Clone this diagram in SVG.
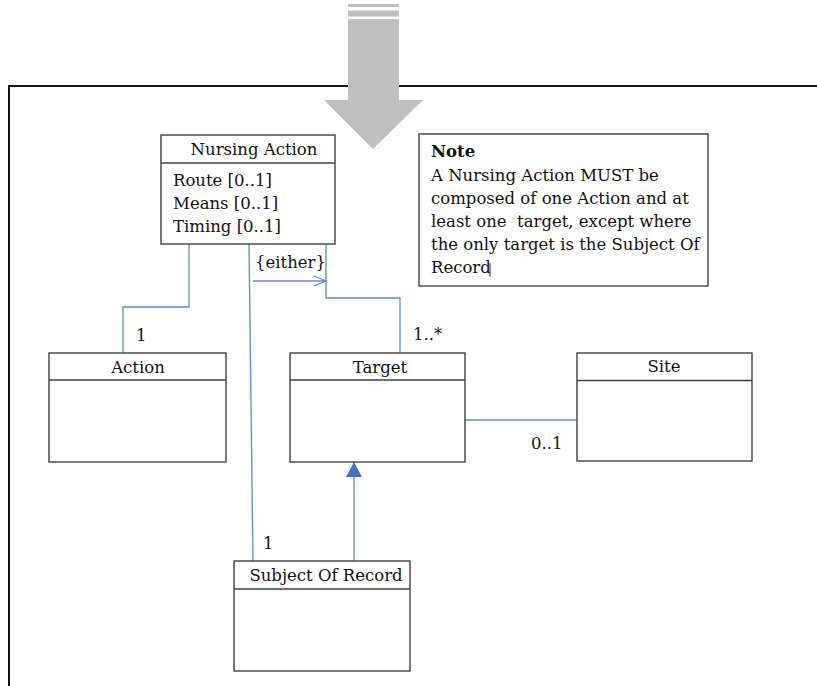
<svg xmlns="http://www.w3.org/2000/svg" width="817" height="686" viewBox="0 0 817 686">
<style>
.box{fill:#fff;stroke:#404040;stroke-width:1.4}
.sep{stroke:#404040;stroke-width:1.4}
.t{font-family:"DejaVu Serif","Liberation Serif",serif;font-size:16.5px;fill:#111}
.c{text-anchor:middle}
.b{font-weight:bold}
.pre{white-space:pre}
.ln{fill:none;stroke:#5b8bd0;stroke-width:1.3}
.frame{fill:none;stroke:#111;stroke-width:2}
</style>
<defs>
<marker id="open" markerWidth="14" markerHeight="12" refX="13" refY="6" orient="auto" markerUnits="userSpaceOnUse">
<path d="M1,1 L13,6 L1,11" fill="none" stroke="#5b8bd0" stroke-width="1.3"/>
</marker>
<marker id="tri" markerWidth="17" markerHeight="16" refX="16" refY="8" orient="auto" markerUnits="userSpaceOnUse">
<path d="M1,0 L16,8 L1,16 Z" fill="#4474bf"/>
</marker>
</defs>
<rect width="817" height="686" fill="#fff"/>
<path class="frame" d="M9,686 L9,86 L817,86"/>
<g id="bigArrow" fill="#bfbfbf">
<rect x="348" y="4" width="51" height="3"/>
<rect x="348" y="10.5" width="51" height="6"/>
<polygon points="348,19 399,19 399,100 423,100 373,149 324,100 348,100"/>
</g>
<g id="connectors">
<path class="ln" d="M189,244 L189,307 L123,307 L123,353"/>
<path class="ln" d="M326,244 L326,298 L400,298 L400,353"/>
<path class="ln" d="M249,244 L253,561"/>
<path class="ln" d="M253,281 L326,281" marker-end="url(#open)"/>
<path class="ln" d="M465,420 L577,420"/>
<path class="ln" d="M354,561 L354,462" marker-end="url(#tri)"/>
<text class="t" x="255" y="268">{either}</text>
<text class="t" x="136" y="341">1</text>
<text class="t" x="413" y="340">1..*</text>
<text class="t" x="531" y="449">0..1</text>
<text class="t" x="263" y="549">1</text>
</g>
<g id="nursingAction">
<rect class="box" x="161" y="135" width="174" height="109"/>
<line class="sep" x1="161" y1="163" x2="335" y2="163"/>
<text class="t c" x="254" y="155">Nursing Action</text>
<text class="t" x="173" y="186">Route [0..1]</text>
<text class="t" x="173" y="209">Means [0..1]</text>
<text class="t" x="173" y="232">Timing [0..1]</text>
</g>
<g id="note">
<rect class="box" x="419" y="134" width="289" height="152"/>
<text class="t b" x="431" y="157">Note</text>
<text class="t" x="431" y="181">A Nursing Action MUST be</text>
<text class="t" x="431" y="204">composed of one Action and at</text>
<text class="t pre" x="431" y="227" xml:space="preserve">least one  target, except where</text>
<text class="t" x="431" y="250">the only target is the Subject Of</text>
<text class="t" x="431" y="273">Record</text>
<line x1="490" y1="263" x2="490" y2="277" stroke="#333" stroke-width="1"/>
</g>
<g id="action">
<rect class="box" x="49" y="353" width="177" height="109"/>
<line class="sep" x1="49" y1="380" x2="226" y2="380"/>
<text class="t c" x="138" y="373">Action</text>
</g>
<g id="target">
<rect class="box" x="290" y="353" width="175" height="109"/>
<line class="sep" x1="290" y1="380" x2="465" y2="380"/>
<text class="t c" x="380" y="373">Target</text>
</g>
<g id="site">
<rect class="box" x="577" y="353" width="175" height="108"/>
<line class="sep" x1="577" y1="380.5" x2="752" y2="380.5"/>
<text class="t c" x="664" y="372">Site</text>
</g>
<g id="subjectOfRecord">
<rect class="box" x="234" y="561" width="176" height="110"/>
<line class="sep" x1="234" y1="589" x2="410" y2="589"/>
<text class="t c" x="326" y="581">Subject Of Record</text>
</g>
</svg>
